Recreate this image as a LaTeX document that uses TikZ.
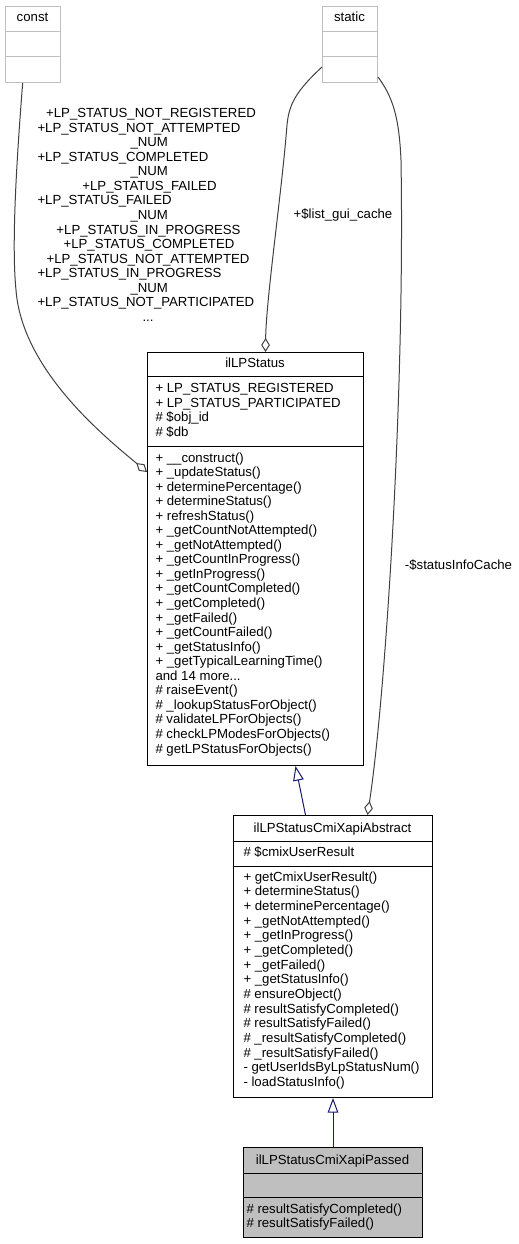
\documentclass[tikz,border=0pt]{standalone}
\usepackage{fontspec}
\setmainfont{Liberation Sans}
\usetikzlibrary{arrows.meta}
\definecolor{edgegray}{HTML}{404040}
\definecolor{navyedge}{HTML}{191970}
\definecolor{boxgray}{HTML}{BFBFBF}
\newcommand{\umlfont}{\fontsize{9.9}{11}\selectfont}
\newcommand{\moredots}{...}

\begin{document}
\begin{tikzpicture}[x=0.75pt,y=-0.75pt,line width=0.75pt,font=\umlfont,
  umlbox/.style 2 args={draw=black,rectangle,anchor=north west,inner sep=0pt,
    minimum width=#1*0.75pt,minimum height=#2*0.75pt},
  member/.style={anchor=base west,inner sep=0pt},
  title/.style={anchor=base,inner sep=0pt},
  aggr/.style={draw=edgegray,-{Diamond[open,length=10.5pt,width=6.5pt]}},
  inherit/.style={draw=navyedge,-{Triangle[open,length=11pt,width=8pt]}}]
\useasboundingbox (0,0) rectangle (518,1244);

% outer classes
\node (const) [umlbox={55}{76},draw=boxgray] at (5,6) {};
\node (constname) [title] at (32.5,22) {const};
\draw[boxgray] (const.west |- 0,32) -- (const.east |- 0,32) (const.west |- 0,57) -- (const.east |- 0,57);
\node (static) [umlbox={55}{76},draw=boxgray] at (322,6) {};
\node (staticname) [title] at (349.5,22) {static};
\draw[boxgray] (static.west |- 0,32) -- (static.east |- 0,32) (static.west |- 0,57) -- (static.east |- 0,57);

% ilLPStatus
\node (status) [umlbox={216}{413}] at (147,352) {};
\node (statusname) [title] at (255,367.5) {ilLPStatus};
\draw (status.west |- 0,376) -- (status.east |- 0,376) (status.west |- 0,446) -- (status.east |- 0,446);
\foreach \t [count=\i] in {+ LP\_STATUS\_REGISTERED,+ LP\_STATUS\_PARTICIPATED,\# \$obj\_id,\# \$db}
  \node (statusa\i) [member] at (155,{392.5+14.67*(\i-1)}) {\t};
\foreach \t [count=\i] in {+ \_\_construct(),+ \_updateStatus(),+ determinePercentage(),+ determineStatus(),
  + refreshStatus(),+ \_getCountNotAttempted(),+ \_getNotAttempted(),+ \_getCountInProgress(),
  + \_getInProgress(),+ \_getCountCompleted(),+ \_getCompleted(),+ \_getFailed(),+ \_getCountFailed(),
  + \_getStatusInfo(),+ \_getTypicalLearningTime(),and 14 more\moredots,\# raiseEvent(),
  \# \_lookupStatusForObject(),\# validateLPForObjects(),\# checkLPModesForObjects(),\# getLPStatusForObjects()}
  \node (statusm\i) [member] at (155,{462+14.55*(\i-1)}) {\t};

% ilLPStatusCmiXapiAbstract
\node (abstract) [umlbox={199}{282}] at (233,815) {};
\node (abstractname) [title] at (332.5,832) {ilLPStatusCmiXapiAbstract};
\draw (abstract.west |- 0,841) -- (abstract.east |- 0,841) (abstract.west |- 0,866) -- (abstract.east |- 0,866);
\node (abstracta1) [member] at (243,856) {\# \$cmixUserResult};
\foreach \t [count=\i] in {+ getCmixUserResult(),+ determineStatus(),+ determinePercentage(),+ \_getNotAttempted(),
  + \_getInProgress(),+ \_getCompleted(),+ \_getFailed(),+ \_getStatusInfo(),\# ensureObject(),
  \# resultSatisfyCompleted(),\# resultSatisfyFailed(),\# \_resultSatisfyCompleted(),\# \_resultSatisfyFailed(),
  - getUserIdsByLpStatusNum(),- loadStatusInfo()}
  \node (abstractm\i) [member] at (243,{881+14.68*(\i-1)}) {\t};

% ilLPStatusCmiXapiPassed
\node (passed) [umlbox={179}{90},fill=boxgray] at (243,1147) {};
\node (passedname) [title] at (332.5,1164) {ilLPStatusCmiXapiPassed};
\draw (passed.west |- 0,1173) -- (passed.east |- 0,1173) (passed.west |- 0,1197) -- (passed.east |- 0,1197);
\node (passedm1) [member] at (246,1213) {\# resultSatisfyCompleted()};
\node (passedm2) [member] at (246,1227.5) {\# resultSatisfyFailed()};

% edges
\draw[inherit] ([shift={(-27.5,0)}]abstract.north) -- ([shift={(40,0)}]status.south);
\draw[inherit] (passed) -- (abstract);
\draw[aggr] (const.255) .. controls (15,180) and (12,250) .. (16,290)
  .. controls (22,370) and (105,437) .. ([shift={(0,120)}]status.north west);
\foreach \a/\x/\t [count=\i] in {base/151/+LP\_STATUS\_NOT\_REGISTERED,base west/37/+LP\_STATUS\_NOT\_ATTEMPTED,
  base west/130/\_NUM,base west/37/+LP\_STATUS\_COMPLETED,base west/130/\_NUM,base/149.5/+LP\_STATUS\_FAILED,
  base west/37/+LP\_STATUS\_FAILED,base west/130/\_NUM,base/148.5/+LP\_STATUS\_IN\_PROGRESS,
  base/149/+LP\_STATUS\_COMPLETED,base/148/+LP\_STATUS\_NOT\_ATTEMPTED,base west/37/+LP\_STATUS\_IN\_PROGRESS,
  base west/130/\_NUM,base west/37/+LP\_STATUS\_NOT\_PARTICIPATED,base/148/\moredots}
  \node (constlbl\i) [anchor=\a,inner sep=0pt] at (\x,{117.7+14.54*(\i-1)}) {\t};
\draw[aggr] ([shift={(0,61)}]static.north west) .. controls (295,92) and (289,105) .. (287,125)
  .. controls (282,190) and (266,300) .. ([shift={(10,0)}]status.north);
\node (guicache) [title] at (343,219) {+\$list\_gui\_cache};
\draw[aggr] ([shift={(0,71)}]static.north east) .. controls (392,96) and (399,115) .. (401,160)
  .. controls (405,400) and (385,700) .. ([shift={(34.5,0)}]abstract.north);
\node (infocache) [title] at (458.5,569.5) {-\$statusInfoCache};
\end{tikzpicture}
\end{document}
